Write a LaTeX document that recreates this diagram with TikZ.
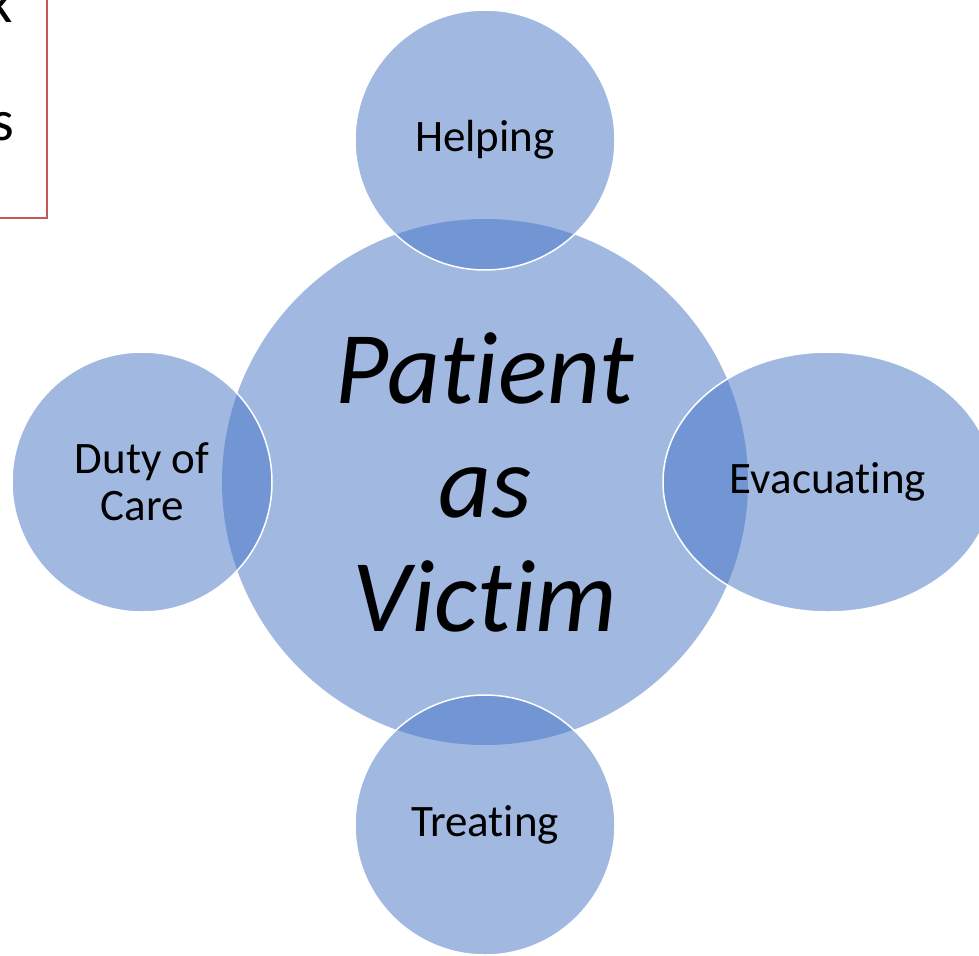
\documentclass[tikz,border=0pt]{standalone}
\usepackage{fontspec}
\setmainfont{Carlito}[Ligatures=NoCommon]
\usepackage{tikz}
\usetikzlibrary{shapes.geometric,positioning}

\definecolor{ringblue}{HTML}{4472C4}
\definecolor{noteline}{RGB}{200,86,86}

\begin{document}
\begin{tikzpicture}[
    x=1pt, y=-1pt,
    hub/.style={circle, fill=ringblue, fill opacity=0.5, text opacity=1, minimum size=526pt, inner sep=0pt, align=center, font=\fontsize{103}{114}\selectfont\itshape},
    petal/.style={circle, fill=ringblue, fill opacity=0.5, text opacity=1, draw=white, draw opacity=1, line width=1.5pt, minimum size=260pt, inner sep=0pt, align=center, font=\fontsize{45}{47}\selectfont},
    oval/.style={petal, ellipse, minimum width=330pt, minimum height=260pt},
    note/.style={anchor=base east, inner sep=0pt, font=\fontsize{58}{60}\selectfont}
]
    \useasboundingbox (0,0) rectangle (979,955);
    \clip (0,0) rectangle (979,955);

    % Note box at the corner
    \draw[noteline, line width=2pt, fill=white] (-20,-20) rectangle (47,218);
    \node[note] (notek) at (13,23) {k};
    \node[note] (notes) at (14,140) {s};

    % Centre
    \node[hub] (victim) at (485,482) {Patient\\as\\Victim};

    % Satellites
    \node[petal] (helping) at (485,140) {Helping};
    \node[petal] (duty) at (142,482) {Duty of\\Care};
    \node[oval] (evac) at (828,482) {Evacuating};
    \node[petal] (treating) at (485,825) {Treating};

\end{tikzpicture}
\end{document}
